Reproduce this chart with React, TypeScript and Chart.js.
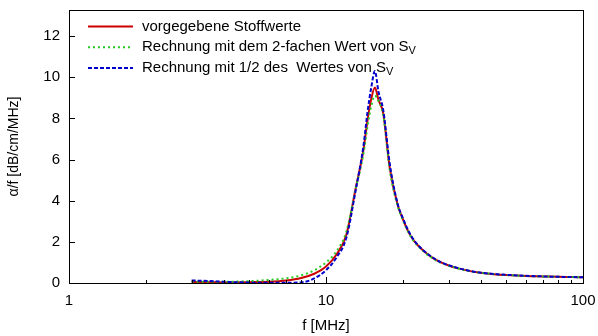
import React, { useEffect, useRef } from "react";
import { Chart, registerables } from "chart.js";

Chart.register(...registerables);

// Frequencies in MHz
const freqs = [3, 3.5, 4, 5, 6, 7, 8, 9, 10, 11, 12, 13, 14, 14.5, 15, 15.5, 16, 16.7, 17.7, 19, 20, 21, 22, 24, 26, 28, 30, 33, 36, 40, 45, 50, 60, 70, 80, 90, 100];

// alpha/f in dB/cm/MHz
const givenValues = [0.05, 0.04, 0.03, 0.04, 0.06, 0.12, 0.24, 0.45, 0.8, 1.4, 2.35, 4.5, 6.5, 7.9, 8.95, 9.5, 8.9, 8.25, 5.6, 3.8, 3.05, 2.45, 2.05, 1.55, 1.22, 1.0, 0.85, 0.7, 0.59, 0.5, 0.43, 0.39, 0.34, 0.32, 0.3, 0.29, 0.28];
const doubleSvValues = [0.06, 0.06, 0.06, 0.09, 0.15, 0.23, 0.37, 0.62, 1.0, 1.55, 2.5, 4.5, 6.3, 7.6, 8.6, 9.1, 8.85, 8.15, 5.5, 3.75, 3.0, 2.42, 2.02, 1.53, 1.2, 0.98, 0.84, 0.69, 0.58, 0.49, 0.43, 0.39, 0.34, 0.32, 0.3, 0.29, 0.28];
const halfSvValues = [0.12, 0.1, 0.06, 0.02, 0.01, 0.01, 0.03, 0.22, 0.62, 1.25, 2.2, 4.4, 6.7, 8.3, 9.5, 10.3, 9.3, 8.4, 5.8, 3.85, 3.1, 2.5, 2.08, 1.57, 1.24, 1.01, 0.86, 0.71, 0.6, 0.5, 0.44, 0.4, 0.35, 0.32, 0.3, 0.29, 0.28];

const xTickValues = [1, 10, 100];
const yTickValues = [0, 2, 4, 6, 8, 10, 12];

const legendLabels = [
  { main: "vorgegebene Stoffwerte", sub: "" },
  { main: "Rechnung mit dem 2-fachen Wert von S", sub: "V" },
  { main: "Rechnung mit 1/2 des  Wertes von S", sub: "V" },
];

const RED = "#cc0000";
const GREEN = "#22cc22";
const BLUE = "#0000cc";
const FONT = "'Liberation Sans', Arial, sans-serif";
const FONT_SIZE = 15;

const styles = [
  { color: RED, dash: [] as number[] },
  { color: GREEN, dash: [2, 3] },
  { color: BLUE, dash: [4, 2] },
];

const frameAndLegend = {
  id: "frameAndLegend",
  afterDatasetsDraw(chart: any) {
    const { ctx, chartArea, scales } = chart;
    const { left, right, top, bottom } = chartArea;
    ctx.save();
    // inward tick marks on bottom and left axes
    ctx.strokeStyle = "#000";
    ctx.lineWidth = 1;
    ctx.beginPath();
    const xs = scales.x;
    for (let dec = 1; dec < 100; dec *= 10) {
      for (let m = 1; m <= 10; m++) {
        const v = dec * m;
        const px = Math.round(xs.getPixelForValue(v)) + 0.5;
        const len = m === 1 || m === 10 ? 6 : 3;
        ctx.moveTo(px, bottom);
        ctx.lineTo(px, bottom - len);
      }
    }
    const ys = scales.y;
    for (const v of yTickValues) {
      const py = Math.round(ys.getPixelForValue(v)) + 0.5;
      ctx.moveTo(left, py);
      ctx.lineTo(left + 6, py);
    }
    ctx.stroke();
    // frame
    ctx.strokeRect(Math.round(left) + 0.5, Math.round(top) + 0.5, Math.round(right - left), Math.round(bottom - top));

    // legend
    const rowY = [26.5, 47.2, 68];
    ctx.textBaseline = "middle";
    legendLabels.forEach((lab, i) => {
      const y = rowY[i];
      ctx.strokeStyle = styles[i].color;
      ctx.lineWidth = 2;
      ctx.setLineDash(styles[i].dash);
      ctx.beginPath();
      ctx.moveTo(88, y);
      ctx.lineTo(133, y);
      ctx.stroke();
      ctx.setLineDash([]);
      ctx.fillStyle = "#000";
      ctx.font = `${FONT_SIZE}px ${FONT}`;
      ctx.textAlign = "left";
      ctx.fillText(lab.main, 142, y);
      if (lab.sub) {
        const w = ctx.measureText(lab.main).width;
        ctx.font = `11px ${FONT}`;
        ctx.fillText(lab.sub, 142 + w, y + 4);
      }
    });
    ctx.restore();
  },
};

export default function App() {
  const canvasRef = useRef<HTMLCanvasElement | null>(null);

  useEffect(() => {
    if (!canvasRef.current) return;
    const mk = (vals: number[]) => freqs.map((f, i) => ({ x: f, y: vals[i] }));
    const common = { pointRadius: 0, borderWidth: 2, cubicInterpolationMode: "monotone" as const };
    const chart = new Chart(canvasRef.current, {
      type: "line",
      data: {
        datasets: [
          { label: "vorgegebene Stoffwerte", data: mk(givenValues), borderColor: RED, order: 3, ...common },
          { label: "Rechnung mit dem 2-fachen Wert von SV", data: mk(doubleSvValues), borderColor: GREEN, borderDash: [2, 3], order: 2, ...common },
          { label: "Rechnung mit 1/2 des Wertes von SV", data: mk(halfSvValues), borderColor: BLUE, borderDash: [4, 2], order: 1, ...common },
        ],
      },
      options: {
        responsive: false,
        animation: false,
        layout: { padding: { left: 0, right: 15, top: 10, bottom: 0 } },
        plugins: { legend: { display: false }, tooltip: { enabled: false } },
        scales: {
          x: {
            type: "logarithmic",
            min: 1,
            max: 100,
            afterBuildTicks: (s: any) => {
              s.ticks = xTickValues.map((v) => ({ value: v }));
            },
            afterFit: (s: any) => {
              s.height = 53;
              s.paddingLeft = 0;
              s.paddingRight = 0;
            },
            grid: { display: false, drawTicks: false },
            border: { display: false },
            ticks: {
              color: "#000",
              padding: 9,
              maxRotation: 0,
              autoSkip: false,
              font: { family: FONT, size: FONT_SIZE },
              callback: (v: any) => String(v),
            },
            title: {
              display: true,
              text: "f [MHz]",
              color: "#000",
              font: { family: FONT, size: FONT_SIZE },
              padding: { top: 0, bottom: 1 },
            },
          },
          y: {
            min: 0,
            max: 13.27,
            afterBuildTicks: (s: any) => {
              s.ticks = yTickValues.map((v) => ({ value: v }));
            },
            afterFit: (s: any) => {
              s.width = 69;
              s.paddingTop = 0;
              s.paddingBottom = 0;
            },
            grid: { display: false, drawTicks: false },
            border: { display: false },
            ticks: {
              color: "#000",
              padding: 9,
              font: { family: FONT, size: FONT_SIZE },
            },
            title: {
              display: true,
              text: "α/f [dB/cm/MHz]",
              color: "#000",
              font: { family: FONT, size: 14 },
              padding: { top: 6, bottom: 0 },
            },
          },
        },
      },
      plugins: [frameAndLegend],
    });
    return () => chart.destroy();
  }, []);

  return (
    <div style={{ position: "absolute", left: 0, top: 0, width: 598, height: 336, background: "#fff" }}>
      <canvas ref={canvasRef} width={598} height={336} />
    </div>
  );
}
